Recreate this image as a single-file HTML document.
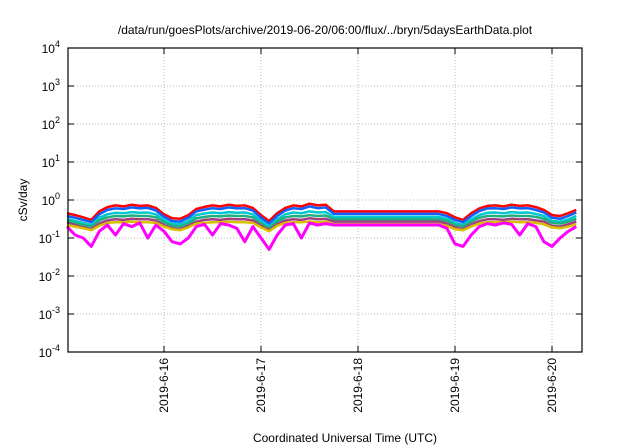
<!DOCTYPE html>
<html><head><meta charset="utf-8"><style>
body{margin:0;background:#fff;}
svg{display:block;font-family:"Liberation Sans",sans-serif;}
</style></head><body>
<svg id="chart" width="640" height="448" viewBox="0 0 640 448">
<text x="325" y="34" font-size="12" text-anchor="middle">/data/run/goesPlots/archive/2019-06-20/06:00/flux/../bryn/5daysEarthData.plot</text>
<text transform="translate(27,200) rotate(-90)" font-size="12" text-anchor="middle">cSv/day</text>
<text x="345" y="442" font-size="12" text-anchor="middle">Coordinated Universal Time (UTC)</text>
<g id="grid"></g><g id="series"></g><g id="axes"></g>
</svg>
<script>
const yTickExps=[-4,-3,-2,-1,0,1,2,3,4];
const xTickDays=[1,2,3,4,5];
const xTickLabels=["2019-6-16","2019-6-17","2019-6-18","2019-6-19","2019-6-20"];
const hoursA=[0,2,4,6,8,10,12,14,16,18,20,22,24,26,28,30,32,34,36,38,40,42,44,46,48,50,52,54,56,58,60,62,64,66];
const hoursB=[92,94,96,98,100,102,104,106,108,110,112,114,116,118,120,122,124,126];
const redA=[0.45,0.40,0.35,0.30,0.50,0.65,0.72,0.68,0.75,0.70,0.72,0.62,0.42,0.33,0.32,0.40,0.58,0.66,0.72,0.68,0.75,0.70,0.72,0.62,0.40,0.28,0.45,0.62,0.72,0.68,0.80,0.72,0.75,0.50];
const redB=[0.50,0.45,0.35,0.30,0.45,0.60,0.70,0.72,0.68,0.75,0.70,0.72,0.65,0.55,0.40,0.38,0.45,0.55];
const blueA=[0.38,0.34,0.30,0.26,0.42,0.55,0.60,0.58,0.64,0.60,0.62,0.53,0.36,0.28,0.27,0.34,0.50,0.56,0.61,0.58,0.64,0.60,0.61,0.53,0.34,0.24,0.38,0.53,0.61,0.58,0.68,0.61,0.64,0.43];
const blueB=[0.43,0.38,0.30,0.26,0.38,0.51,0.60,0.61,0.58,0.64,0.60,0.61,0.55,0.47,0.34,0.32,0.38,0.47];
const cyanA=[0.32,0.28,0.25,0.22,0.34,0.42,0.46,0.45,0.48,0.46,0.47,0.42,0.30,0.24,0.23,0.28,0.40,0.44,0.47,0.45,0.48,0.46,0.47,0.42,0.28,0.20,0.31,0.42,0.47,0.45,0.50,0.47,0.48,0.36];
const cyanB=[0.36,0.32,0.25,0.22,0.31,0.40,0.46,0.47,0.45,0.48,0.46,0.47,0.43,0.38,0.28,0.27,0.31,0.38];
const greenA=[0.28,0.25,0.22,0.20,0.29,0.35,0.38,0.37,0.39,0.38,0.38,0.35,0.26,0.21,0.20,0.24,0.33,0.36,0.38,0.37,0.39,0.38,0.38,0.35,0.24,0.18,0.27,0.35,0.38,0.37,0.40,0.38,0.39,0.31];
const greenB=[0.31,0.28,0.22,0.20,0.27,0.34,0.38,0.38,0.37,0.39,0.38,0.38,0.36,0.32,0.25,0.24,0.27,0.32];
const purpleA=[0.25,0.22,0.19,0.17,0.24,0.29,0.31,0.30,0.32,0.31,0.31,0.29,0.22,0.18,0.17,0.21,0.27,0.30,0.31,0.30,0.32,0.31,0.31,0.29,0.21,0.16,0.23,0.29,0.31,0.30,0.33,0.31,0.32,0.27];
const purpleB=[0.27,0.24,0.19,0.17,0.23,0.28,0.31,0.31,0.30,0.32,0.31,0.31,0.29,0.27,0.21,0.20,0.23,0.27];
const yellowA=[0.22,0.20,0.18,0.16,0.21,0.25,0.26,0.26,0.27,0.26,0.26,0.25,0.20,0.17,0.16,0.19,0.24,0.25,0.26,0.26,0.27,0.26,0.26,0.25,0.19,0.15,0.21,0.25,0.26,0.26,0.27,0.26,0.27,0.23];
const yellowB=[0.23,0.21,0.17,0.16,0.20,0.24,0.26,0.26,0.26,0.27,0.26,0.26,0.25,0.23,0.19,0.18,0.20,0.23];
const magentaA=[0.20,0.12,0.10,0.06,0.15,0.22,0.12,0.24,0.20,0.25,0.10,0.22,0.15,0.08,0.07,0.10,0.20,0.23,0.12,0.24,0.22,0.18,0.08,0.20,0.10,0.05,0.12,0.22,0.24,0.10,0.25,0.22,0.24,0.22];
const magentaB=[0.22,0.18,0.07,0.06,0.12,0.20,0.24,0.22,0.25,0.23,0.12,0.24,0.20,0.08,0.06,0.10,0.15,0.20];

const L=68,R=582,T=48,B=352,pxPerDay=97,x0=67;
const NS="http://www.w3.org/2000/svg";
function xs(h){return x0+h/24*pxPerDay;}
function ys(v){return T+(4-Math.log10(v))*(B-T)/8;}
function mk(tag,attrs,parent){const e=document.createElementNS(NS,tag);for(const k in attrs)e.setAttribute(k,attrs[k]);parent.appendChild(e);return e;}
const grid=document.getElementById('grid'),axes=document.getElementById('axes'),ser=document.getElementById('series');
yTickExps.forEach(p=>{
  const y=ys(Math.pow(10,p));
  if(p>-4&&p<4){const g=mk('line',{x1:L,x2:R,y1:y,y2:y,stroke:'#bbb','stroke-dasharray':'1,2','stroke-width':1},grid);
  
  }
  const t=mk('line',{x1:L,x2:L+6,y1:y,y2:y,stroke:'#000'},axes);
  
  
  mk('line',{x1:R-6,x2:R,y1:y,y2:y,stroke:'#000'},axes);
  const tx=mk('text',{x:L-8,y:y+5,'font-size':12,'text-anchor':'end'},axes);
  
  
  tx.innerHTML='10<tspan dy="-6" font-size="9">'+p+'</tspan>';
});
xTickDays.forEach((d,i)=>{
  const x=xs(d*24);
  const g=mk('line',{x1:x,x2:x,y1:T,y2:B,stroke:'#bbb','stroke-dasharray':'1,2'},grid);
  
  
  const t=mk('line',{x1:x,x2:x,y1:B-6,y2:B,stroke:'#000'},axes);
  
  
  mk('line',{x1:x,x2:x,y1:T,y2:T+6,stroke:'#000'},axes);
  const tx=mk('text',{transform:'translate('+(x+4)+','+(B+6)+') rotate(-90)','font-size':12,'text-anchor':'end'},axes);
  
  
  tx.textContent=xTickLabels[i];
});
const fr=mk('rect',{x:L,y:T,width:R-L,height:B-T,fill:'none',stroke:'#000','stroke-width':1.2},axes);


const series=[['red',redA,redB,'#f00'],['blue',blueA,blueB,'#1060ff'],['cyan',cyanA,cyanB,'#00c8d0'],['green',greenA,greenB,'#20b080'],['purple',purpleA,purpleB,'#a04080'],['yellow',yellowA,yellowB,'#d8c000'],['magenta',magentaA,magentaB,'#ff00ff']];
series.forEach(s=>{
  const pts=[];
  hoursA.forEach((h,i)=>pts.push(xs(h).toFixed(1)+','+ys(s[1][i]).toFixed(1)));
  hoursB.forEach((h,i)=>pts.push(xs(h).toFixed(1)+','+ys(s[2][i]).toFixed(1)));
  const p=mk('polyline',{points:pts.join(' '),fill:'none',stroke:s[3],'stroke-width':s[0]==='magenta'?3:2.5,'stroke-linejoin':'round'},ser);
  
  
});
</script>
</body></html>
